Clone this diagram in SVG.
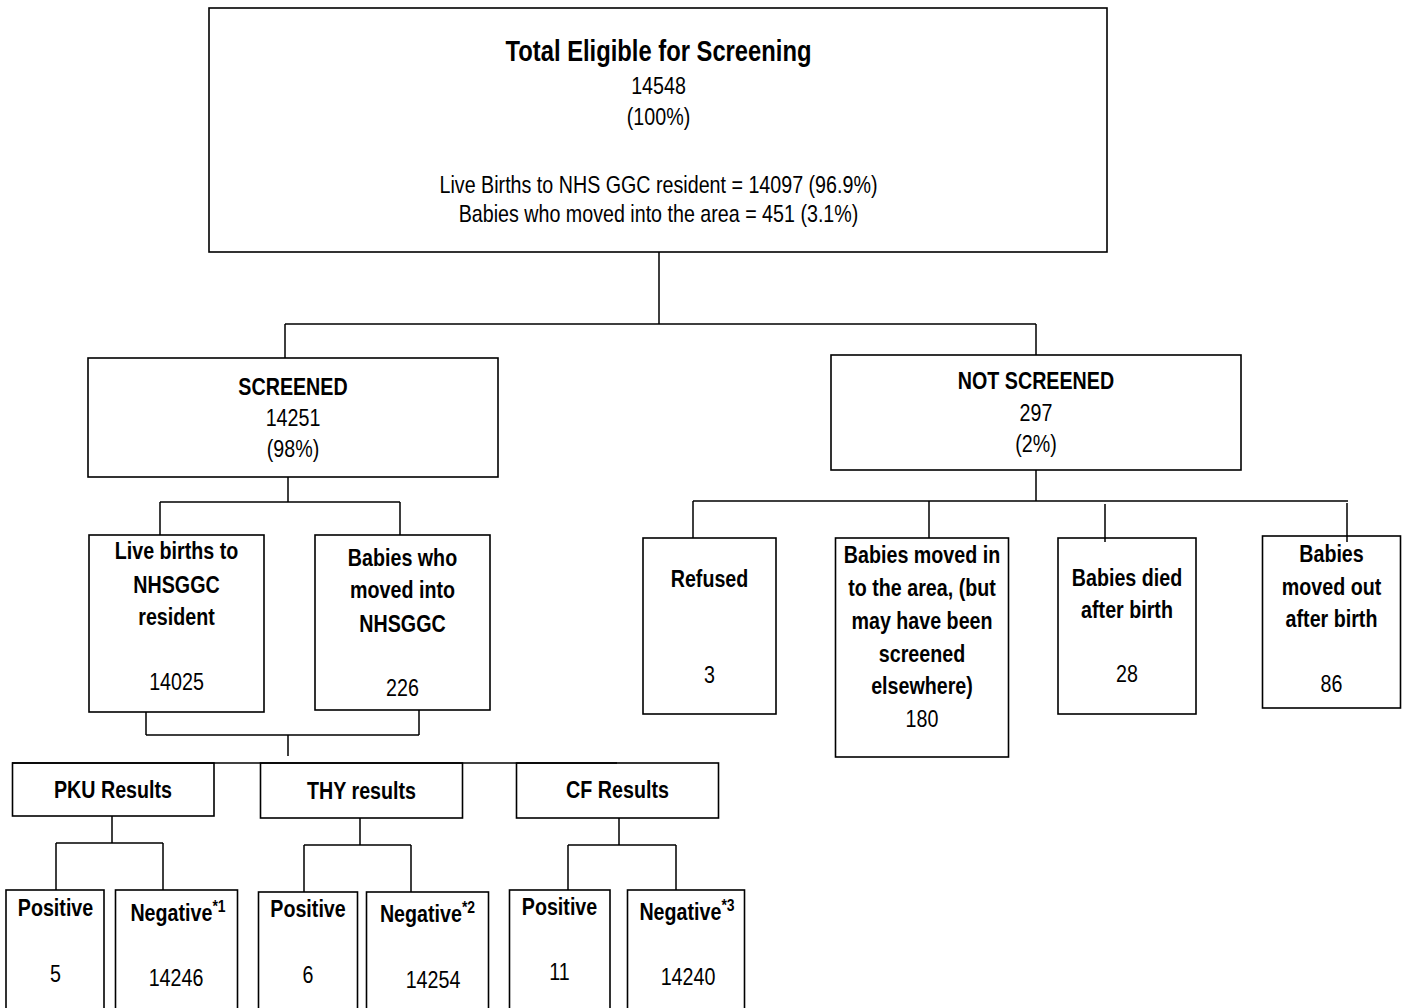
<svg xmlns="http://www.w3.org/2000/svg" width="1409" height="1008" viewBox="0 0 1409 1008">
<style>
.box{fill:#fff;stroke:#000;stroke-width:1.6}
.ln{fill:none;stroke:#000;stroke-width:1.5}
text{font-family:"Liberation Sans",Arial,sans-serif;font-size:24px;fill:#000;text-anchor:middle}
.b{font-weight:bold}
.ttl{font-size:29px;font-weight:bold}
.sup{font-size:17px}
</style>
<rect width="1409" height="1008" fill="#fff"/>

<g id="n-total">
<rect class="box" x="209" y="8" width="898" height="244"/>
<text class="ttl" transform="translate(658.5 61) scale(.82 1)">Total Eligible for Screening</text>
<text transform="translate(658.5 94) scale(.82 1)">14548</text>
<text transform="translate(658.5 125) scale(.82 1)">(100%)</text>
<text transform="translate(658.5 193) scale(.82 1)">Live Births to NHS GGC resident = 14097 (96.9%)</text>
<text transform="translate(658.5 222) scale(.82 1)">Babies who moved into the area = 451 (3.1%)</text>
</g>

<g id="n-screened">
<rect class="box" x="88" y="358" width="410" height="119"/>
<text class="b" transform="translate(293 395) scale(.82 1)">SCREENED</text>
<text transform="translate(293 426) scale(.82 1)">14251</text>
<text transform="translate(293 457) scale(.82 1)">(98%)</text>
</g>

<g id="n-notscreened">
<rect class="box" x="831" y="355" width="410" height="115"/>
<text class="b" transform="translate(1036 389) scale(.82 1)">NOT SCREENED</text>
<text transform="translate(1036 421) scale(.82 1)">297</text>
<text transform="translate(1036 452) scale(.82 1)">(2%)</text>
</g>

<g id="n-livebirths">
<rect class="box" x="89" y="535" width="175" height="177"/>
<text class="b" transform="translate(176.5 559) scale(.82 1)">Live births to</text>
<text class="b" transform="translate(176.5 593) scale(.82 1)">NHSGGC</text>
<text class="b" transform="translate(176.5 625) scale(.82 1)">resident</text>
<text transform="translate(176.5 690) scale(.82 1)">14025</text>
</g>

<g id="n-movedinto">
<rect class="box" x="315" y="535" width="175" height="175"/>
<text class="b" transform="translate(402.5 566) scale(.82 1)">Babies who</text>
<text class="b" transform="translate(402.5 598) scale(.82 1)">moved into</text>
<text class="b" transform="translate(402.5 632) scale(.82 1)">NHSGGC</text>
<text transform="translate(402.5 696) scale(.82 1)">226</text>
</g>

<g id="n-refused">
<rect class="box" x="643" y="538" width="133" height="176"/>
<text class="b" transform="translate(709.5 587) scale(.82 1)">Refused</text>
<text transform="translate(709.5 683) scale(.82 1)">3</text>
</g>

<g id="n-movedin">
<rect class="box" x="835.5" y="538" width="173" height="219"/>
<text class="b" transform="translate(922 563) scale(.82 1)">Babies moved in</text>
<text class="b" transform="translate(922 596) scale(.82 1)">to the area, (but</text>
<text class="b" transform="translate(922 629) scale(.82 1)">may have been</text>
<text class="b" transform="translate(922 662) scale(.82 1)">screened</text>
<text class="b" transform="translate(922 694) scale(.82 1)">elsewhere)</text>
<text transform="translate(922 727) scale(.82 1)">180</text>
</g>

<g id="n-died">
<rect class="box" x="1058" y="538" width="138" height="176"/>
<text class="b" transform="translate(1127 586) scale(.82 1)">Babies died</text>
<text class="b" transform="translate(1127 618) scale(.82 1)">after birth</text>
<text transform="translate(1127 682) scale(.82 1)">28</text>
</g>

<g id="n-movedout">
<rect class="box" x="1262.5" y="536" width="138" height="172"/>
<text class="b" transform="translate(1331.5 562) scale(.82 1)">Babies</text>
<text class="b" transform="translate(1331.5 595) scale(.82 1)">moved out</text>
<text class="b" transform="translate(1331.5 627) scale(.82 1)">after birth</text>
<text transform="translate(1331.5 692) scale(.82 1)">86</text>
</g>

<g id="n-pku">
<rect class="box" x="12.5" y="763" width="201.5" height="53"/>
<text class="b" transform="translate(113 798) scale(.82 1)">PKU Results</text>
</g>
<g id="n-thy">
<rect class="box" x="260.5" y="763" width="202" height="55"/>
<text class="b" transform="translate(361.5 799) scale(.82 1)">THY results</text>
</g>
<g id="n-cf">
<rect class="box" x="516.5" y="763" width="202" height="55"/>
<text class="b" transform="translate(617.5 798) scale(.82 1)">CF Results</text>
</g>

<g id="n-pku-pos">
<rect class="box" x="6" y="890" width="98" height="130"/>
<text class="b" transform="translate(55.5 916) scale(.82 1)">Positive</text>
<text transform="translate(55.5 982) scale(.82 1)">5</text>
</g>
<g id="n-pku-neg">
<rect class="box" x="115.5" y="890" width="122" height="130"/>
<text class="b" transform="translate(178 921) scale(.82 1)">Negative<tspan class="sup" dy="-9">*1</tspan></text>
<text transform="translate(176 986) scale(.82 1)">14246</text>
</g>
<g id="n-thy-pos">
<rect class="box" x="258.5" y="892" width="99" height="130"/>
<text class="b" transform="translate(308 917) scale(.82 1)">Positive</text>
<text transform="translate(308 983) scale(.82 1)">6</text>
</g>
<g id="n-thy-neg">
<rect class="box" x="366.5" y="892" width="122" height="130"/>
<text class="b" transform="translate(427.5 922) scale(.82 1)">Negative<tspan class="sup" dy="-9">*2</tspan></text>
<text transform="translate(433 988) scale(.82 1)">14254</text>
</g>
<g id="n-cf-pos">
<rect class="box" x="509.5" y="890" width="100.5" height="130"/>
<text class="b" transform="translate(559.5 915) scale(.82 1)">Positive</text>
<text transform="translate(559.5 980) scale(.82 1)">11</text>
</g>
<g id="n-cf-neg">
<rect class="box" x="627.5" y="890" width="117" height="130"/>
<text class="b" transform="translate(687 920) scale(.82 1)">Negative<tspan class="sup" dy="-9">*3</tspan></text>
<text transform="translate(688 985) scale(.82 1)">14240</text>
</g>

<g id="connectors" class="ln">
<path d="M659 252V324M285 324H1036M285 324V358M1036 324V355"/>
<path d="M288 477V502M160 502H400M160 502V535M400 502V535"/>
<path d="M146 712V735M419 710V735M146 735H419M288 735V756"/>
<path d="M12 763H617"/>
<path d="M112 816V843M56 843H163M56 843V890M163 843V890"/>
<path d="M360 818V845M304 845H411M304 845V892M411 845V892"/>
<path d="M619 818V845M568 845H676M568 845V890M676 845V890"/>
<path d="M1036 470V501M693 501H1348M693 501V538M929 501V538M1105 504V542M1347 503V542"/>
</g>
</svg>
